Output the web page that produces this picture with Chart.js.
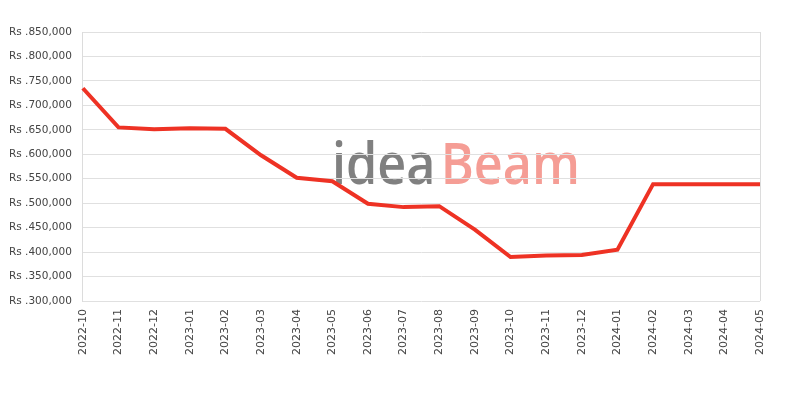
<!DOCTYPE html>
<html>
<head>
<meta charset="utf-8">
<script src="https://cdn.jsdelivr.net/npm/chart.js@4"></script>
<style>
  html, body { margin: 0; padding: 0; background: #fff; }
  #box { width: 800px; height: 400px; }
</style>
</head>
<body>
<div id="box"><canvas id="grafico"></canvas></div>
<script>
// Meses do eixo X
const meses = ['2022-10', '2022-11', '2022-12', '2023-01', '2023-02', '2023-03', '2023-04',
  '2023-05', '2023-06', '2023-07', '2023-08', '2023-09', '2023-10', '2023-11', '2023-12',
  '2024-01', '2024-02', '2024-03', '2024-04', '2024-05'];

// Preços (Rs)
const precos = [735000, 655000, 651000, 653000, 652000, 598000, 552000,
  545000, 499000, 492000, 494000, 446000, 390000, 393000, 394000,
  405000, 539000, 539000, 539000, 539000];

const yMin = 300000;
const yMax = 850000;
const yPasso = 50000;

// Marca d'água desenhada por trás das linhas
const marcaDagua = {
  id: 'marcaDagua',
  beforeDraw(chart) {
    const ctx = chart.ctx;
    ctx.save();
    ctx.font = '600 58px "Open Sans"';
    ctx.textBaseline = 'alphabetic';
    const w1 = ctx.measureText('idea').width;
    const w2 = ctx.measureText('Beam').width;
    const escala = 248 / (w1 + w2 + 6);
    ctx.translate(332, 184);
    ctx.scale(escala, 1);
    ctx.fillStyle = '#808080';
    ctx.fillText('idea', 0, 0);
    ctx.fillStyle = '#f59d95';
    ctx.fillText('Beam', w1 + 6, 0);
    ctx.restore();
  }
};

const config = {
  type: 'line',
  data: {
    labels: meses,
    datasets: [{
      label: 'Preço',
      data: precos,
      borderColor: 'rgb(238, 50, 36)',
      backgroundColor: 'rgb(238, 50, 36)',
      borderWidth: 4,
      pointRadius: 0,
      tension: 0,
      fill: false
    }]
  },
  options: {
    responsive: true,
    maintainAspectRatio: false,
    animation: false,
    layout: { padding: { top: 32, right: 40, bottom: 37, left: -2 } },
    plugins: {
      legend: { display: false },
      tooltip: { enabled: false }
    },
    scales: {
      x: {
        offset: false,
        grid: {
          drawTicks: false,
          color: function (c) { return c.index === meses.length - 1 ? '#dcdcdc' : 'transparent'; }
        },
        border: { display: false },
        ticks: {
          autoSkip: false,
          maxRotation: 90,
          minRotation: 90,
          padding: 8,
          color: '#444',
          font: { family: 'DejaVu Sans', size: 11 }
        }
      },
      y: {
        min: yMin,
        max: yMax,
        grid: { color: '#e0e0e0', drawTicks: false },
        border: { display: true, color: '#dcdcdc' },
        ticks: {
          stepSize: yPasso,
          padding: 11,
          color: '#444',
          font: { family: 'DejaVu Sans', size: 10.5 },
          callback: function (v) { return 'Rs .' + v.toLocaleString('en-US'); }
        }
      }
    }
  },
  plugins: [marcaDagua]
};

let grafico = new Chart(document.getElementById('grafico'), config);
</script>
</body>
</html>
